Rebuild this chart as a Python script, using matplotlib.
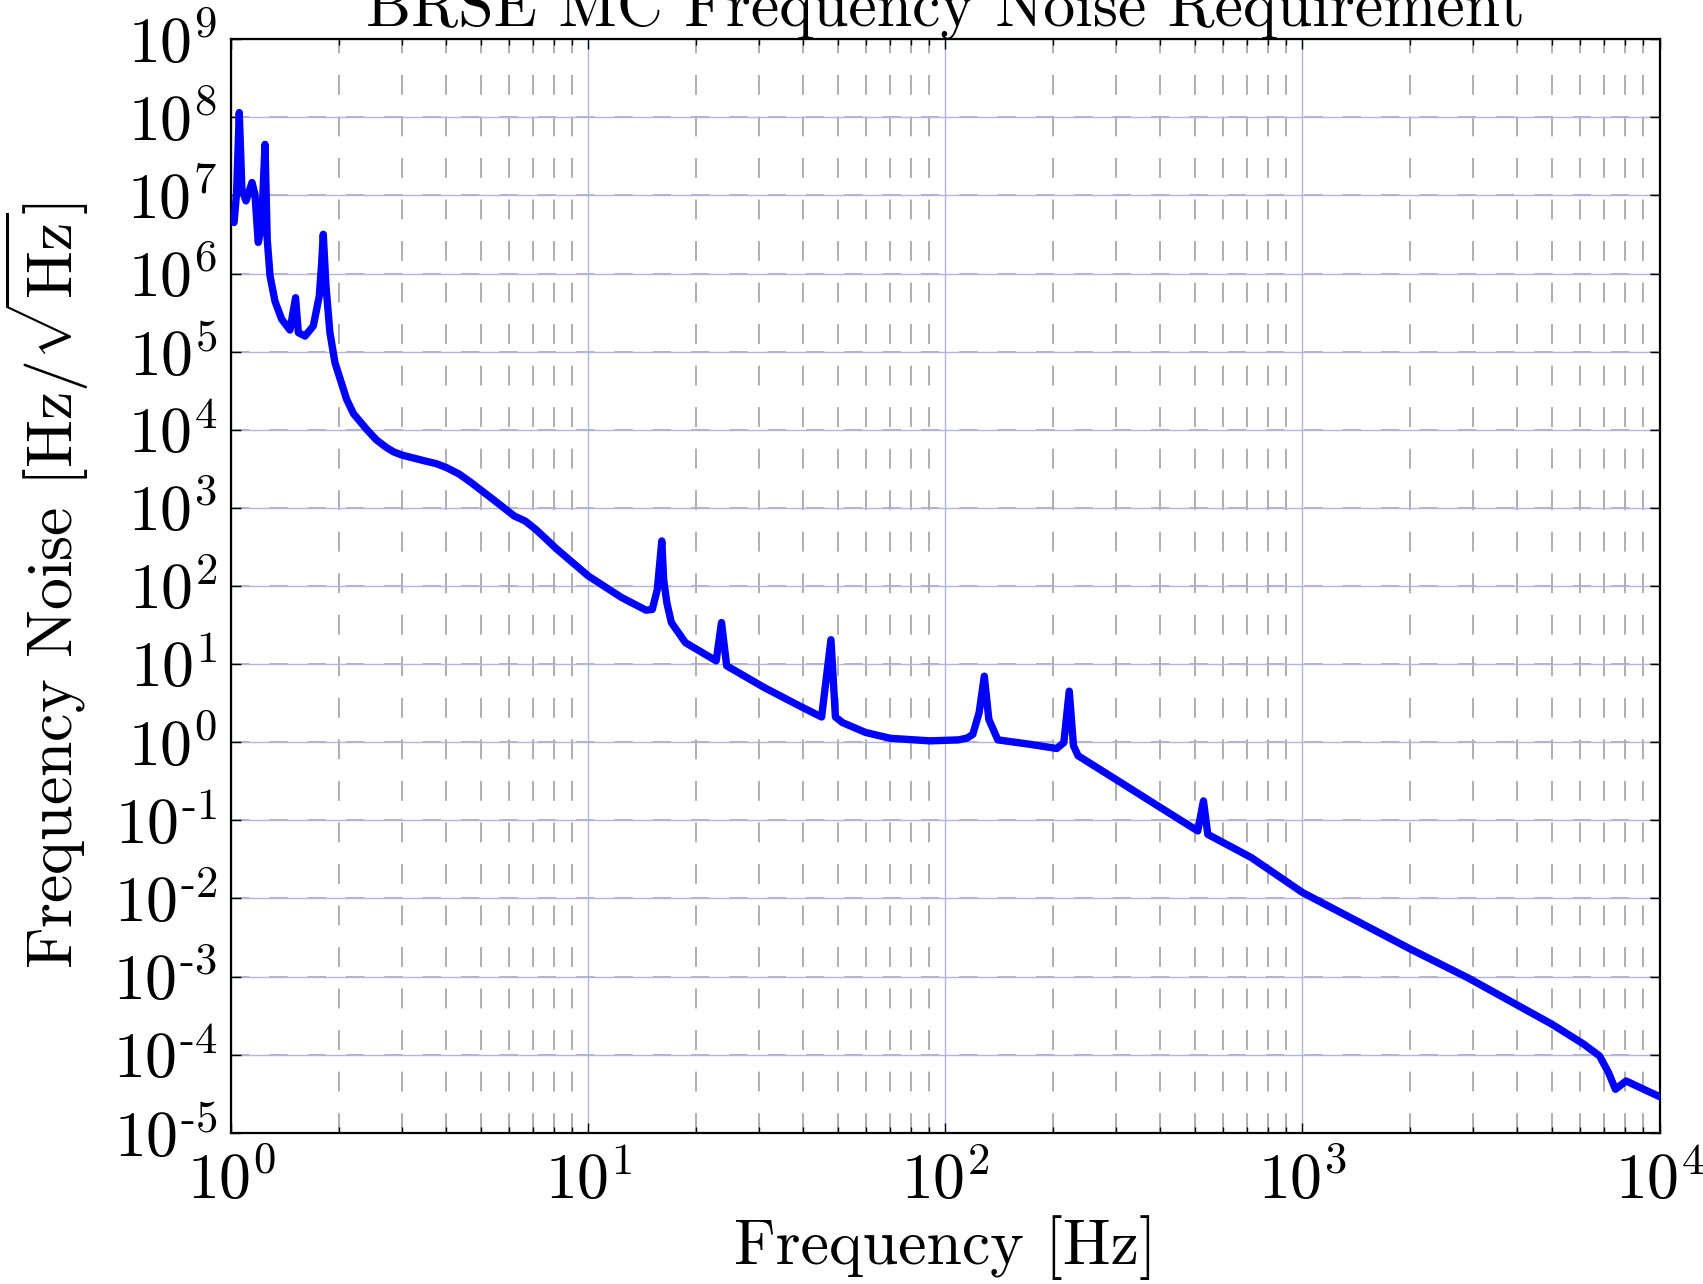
import numpy as np
import matplotlib
matplotlib.use('Agg')
import matplotlib.pyplot as plt
from matplotlib.ticker import LogLocator, NullLocator, FuncFormatter

plt.rcParams['font.family'] = 'serif'
plt.rcParams['font.serif'] = ['cmr10']
plt.rcParams['mathtext.fontset'] = 'cm'
plt.rcParams['axes.formatter.use_mathtext'] = True

# data (Hz, Hz/sqrt(Hz))
freq = [1.018, 1.035, 1.053, 1.071, 1.0995, 1.143, 1.165, 1.19, 1.216, 1.243,
        1.261, 1.284, 1.326, 1.384, 1.46, 1.514, 1.541, 1.609, 1.697, 1.764,
        1.79, 1.81, 1.83, 1.842, 1.889, 1.952, 2.104, 2.2, 2.394, 2.55,
        2.723, 2.85, 3.0, 3.2, 3.49, 3.75, 4.01, 4.35, 4.70, 5.40,
        6.20, 6.65, 7.12, 8.17, 10.0, 12.4, 14.5, 15.1, 15.6, 16.06,
        16.25, 16.6, 17.08, 18.7, 22.8, 23.6, 24.4, 31.1, 39.1, 45.0,
        47.8, 49.2, 51.5, 59.8, 70.2, 90.5, 108.8, 115.0, 119.3, 124.3,
        128.5, 132.3, 140.2, 172.4, 205.0, 214.6, 222.2, 228.4, 235.3, 299.7,
        399.7, 509.0, 528.0, 543.0, 719.0, 1000.0, 2012.0, 2896.0, 4996.0, 6134.0,
        6792.0, 7194.0, 7523.0, 8057.0, 9027.0, 10000.0]
noise = [4.5e6, 1.08e7, 1.15e8, 1.19e7, 8.5e6, 1.46e7, 1.03e7, 2.5e6, 4.06e6, 4.5e7,
         2.74e6, 9.3e5, 4.4e5, 2.6e5, 1.89e5, 4.9e5, 1.75e5, 1.58e5, 2.13e5, 5.15e5,
         1.3e6, 3.18e6, 1.2e6, 6.9e5, 1.75e5, 7.2e4, 2.45e4, 1.6e4, 1.01e4, 7.4e3,
         5.9e3, 5.2e3, 4.75e3, 4.4e3, 3.98e3, 3.68e3, 3.27e3, 2.7e3, 2.1e3, 1.29e3,
         787, 679, 531, 295, 134, 71, 49, 50, 90, 377,
         120, 60, 34, 18.8, 11, 34, 9.5, 5.0, 2.9, 2.1,
         20.5, 2.1, 1.78, 1.33, 1.12, 1.04, 1.07, 1.13, 1.26, 2.4,
         7.0, 1.96, 1.07, 0.94, 0.83, 0.99, 4.5, 0.9, 0.67, 0.335,
         0.146, 0.073, 0.177, 0.066, 0.0333, 0.0119, 2.23e-3, 9.7e-4, 2.45e-4, 1.36e-4,
         9.6e-5, 5.9e-5, 3.6e-5, 4.6e-5, 3.6e-5, 2.9e-5]

y_decades = np.arange(-5, 10)


def decade_label(v, pos):
    e = int(round(np.log10(v)))
    if e < 0:
        return r'$10^{\text{%d}}$' % e
    return r'$10^{%d}$' % e


fig = plt.figure(figsize=(17.03, 12.84), dpi=100)
ax = fig.add_subplot(111)
fig.subplots_adjust(left=0.1358, right=0.9745, bottom=0.1178, top=0.9695)

ax.set_xscale('log')
ax.set_yscale('log')
ax.set_xlim(1, 1e4)
ax.set_ylim(1e-5, 1e9)

ax.yaxis.set_major_locator(LogLocator(base=10, numticks=30))
ax.yaxis.set_minor_locator(NullLocator())
ax.yaxis.set_major_formatter(FuncFormatter(decade_label))
ax.xaxis.set_major_formatter(FuncFormatter(decade_label))
ax.xaxis.set_minor_locator(LogLocator(base=10, subs=np.arange(2, 10), numticks=30))

# grid: blue solid majors, grey dashed minors on x, grey dashes on y majors too
ax.grid(True, which='major', axis='both', color='#b4b4e4', lw=1.0, ls='-')
ax.grid(True, which='minor', axis='x', color='#a8a8a8', lw=1.3, ls=(0, (11, 12)))
for d in y_decades:
    ax.axhline(10.0 ** d, color='#a8a8a8', lw=1.2, ls=(0, (11, 12)), zorder=0.5)
ax.set_axisbelow(True)

ax.plot(freq, noise, color='#0000ff', lw=5.3, solid_joinstyle='round',
        solid_capstyle='round', zorder=3)

ax.tick_params(which='both', direction='in', top=True, right=True,
               labelsize=46, width=1.0)
ax.tick_params(which='major', length=7, pad=14)
ax.tick_params(which='minor', length=4)
ax.tick_params(axis='y', which='major', pad=10)
for s in ax.spines.values():
    s.set_linewidth(1.6)

ax.set_xlabel('Frequency [Hz]', fontsize=46, labelpad=2)
ax.set_ylabel(r'Frequency Noise $[\mathrm{Hz}/\sqrt{\mathrm{Hz}}]$', fontsize=46)
ax.yaxis.set_label_coords(-0.098, 0.5)
ax.set_title('BRSE MC Frequency Noise Requirement', fontsize=46, pad=8.6)

fig.savefig('out.png', dpi=100)
